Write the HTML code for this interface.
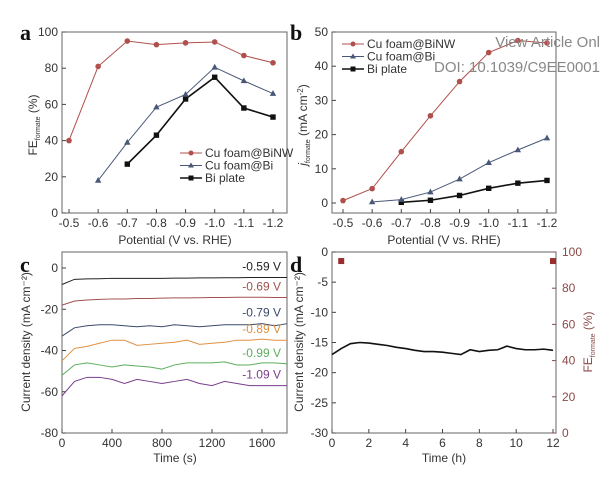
<!DOCTYPE html>
<html><head><meta charset="utf-8"><style>
body{margin:0;background:#fff;width:600px;height:474px;overflow:hidden}
svg{font-family:"Liberation Sans",sans-serif}
</style></head><body>
<svg id="fig" width="600" height="474" viewBox="0 0 600 474"></svg>
<script>
// ---- Panel a data ----
const potentials = [-0.5,-0.6,-0.7,-0.8,-0.9,-1.0,-1.1,-1.2];
const feBiNW = [40,81,95,93,94,94.5,87,83];
const feBi = [null,18,39,58.5,65.5,80.5,73,66];
const fePlate = [null,null,27,43,63,75,58,53];
// ---- Panel b data ----
const jBiNW = [0.7,4.2,15,25.5,35.5,44,47.5,46.8];
const jBi = [null,0.3,1,3.2,7,11.8,15.5,19];
const jPlate = [null,null,0.2,0.8,2.2,4.3,5.8,6.6];
// ---- Panel c data (every 100 s) ----
const timesC = [0,100,200,300,400,500,600,700,800,900,1000,1100,1200,1300,1400,1500,1600,1700,1800];
const c059 = [-8,-5.5,-5.3,-5.2,-5,-5,-5,-5,-5,-4.9,-4.9,-4.8,-4.8,-4.7,-4.7,-4.6,-4.6,-4.6,-4.6];
const c069 = [-18,-16,-15.5,-15.2,-15,-15,-14.8,-14.8,-14.6,-14.5,-14.5,-14.4,-14.3,-14.3,-14.2,-14.2,-14.2,-14.3,-14.3];
const c079 = [-33,-29,-28,-27.5,-27.5,-28,-28.5,-28,-28.5,-27.5,-28,-28.5,-28,-27.5,-27.5,-27.5,-27,-28,-27];
const c089 = [-45,-39,-38,-36.5,-35,-35,-37.5,-37,-36.5,-36,-35,-37,-36.5,-36,-35,-35,-34.5,-35,-35];
const c099 = [-52,-47,-46,-47,-48,-47,-47.5,-48,-49,-47,-46,-46,-46,-45.5,-47,-47,-46,-46,-46.5];
const c109 = [-62,-55,-53,-53,-54,-56,-54,-55,-56,-55,-54,-56,-57,-55,-56,-57,-57,-57,-57];
const cLabels = ["-0.59 V","-0.69 V","-0.79 V","-0.89 V","-0.99 V","-1.09 V"];
// ---- Panel d data ----
const timesD = [0,0.5,1,1.5,2,2.5,3,3.5,4,4.5,5,5.5,6,6.5,7,7.5,8,8.5,9,9.5,10,10.5,11,11.5,12];
const jD = [-17,-16,-15.2,-15,-15.1,-15.3,-15.5,-15.8,-16,-16.3,-16.5,-16.5,-16.6,-16.8,-17,-16.2,-16.5,-16.3,-16.2,-15.6,-16,-16.2,-16.2,-16.1,-16.3];
const feTimesD = [0.5,12];
const feD = [95,95];

const NS="http://www.w3.org/2000/svg";
const svg=document.getElementById('fig');
function mk(tag,attrs,parent,text){const e=document.createElementNS(NS,tag);for(const k in attrs)e.setAttribute(k,attrs[k]);if(text!==undefined)e.textContent=text;(parent||svg).appendChild(e);return e;}
function lin(d0,d1,r0,r1){return v=>r0+(v-d0)*(r1-r0)/(d1-d0);}
function grp(name){const g=mk('g',{});return g;}

function frame(g,x0,y0,x1,y1){
  const r=mk('rect',{x:x0,y:y0,width:x1-x0,height:y1-y0,fill:'none',stroke:'#666','stroke-width':1},g);
  
}
function xticks(g,vals,labels,sx,y,minor){
  vals.forEach((v,i)=>{mk('line',{x1:sx(v),x2:sx(v),y1:y,y2:y-4,stroke:'#444'},g);
    const t=mk('text',{x:sx(v),y:y+14,'font-size':12,'text-anchor':'middle',fill:'#333'},g,labels[i]);
    });
}
function yticks(g,vals,sy,x,side,color){
  vals.forEach(v=>{const dir=side==='left'?1:-1;
    mk('line',{x1:x,x2:x+4*dir,y1:sy(v),y2:sy(v),stroke:color||'#444'},g);
    const t=mk('text',{x:side==='left'?x-4:x+6,y:sy(v)+4,'font-size':12,'text-anchor':side==='left'?'end':'start',fill:color||'#333'},g,String(v));
    });
}
function series(g,xs,ys,sx,sy,color,marker,name,w){
  const pts=[];xs.forEach((x,i)=>{if(ys[i]!==null)pts.push([sx(x),sy(ys[i])]);});
  const p=mk('polyline',{points:pts.map(p=>p.join(',')).join(' '),fill:'none',stroke:color,'stroke-width':w||1},g);
  
  pts.forEach(([x,y])=>{let m;
    if(marker==='circle')m=mk('circle',{cx:x,cy:y,r:2.8,fill:color},g);
    else if(marker==='tri')m=mk('polygon',{points:`${x},${y-3.5} ${x-3.2},${y+2.3} ${x+3.2},${y+2.3}`,fill:color},g);
    else if(marker==='square')m=mk('rect',{x:x-2.7,y:y-2.7,width:5.4,height:5.4,fill:color},g);
    if(m){}
  });
}
function legend(g,x,y,items){
  items.forEach((it,i)=>{const yy=y+i*12.5;
    mk('line',{x1:x,x2:x+22,y1:yy,y2:yy,stroke:it.c,'stroke-width':it.w||1},g);
    let m;const cx=x+11;
    if(it.m==='circle')m=mk('circle',{cx:cx,cy:yy,r:2.5,fill:it.c},g);
    else if(it.m==='tri')m=mk('polygon',{points:`${cx},${yy-3} ${cx-3},${yy+2} ${cx+3},${yy+2}`,fill:it.c},g);
    else m=mk('rect',{x:cx-2.5,y:yy-2.5,width:5,height:5,fill:it.c},g);
    const t=mk('text',{x:x+25,y:yy+4,'font-size':12,fill:'#333'},g,it.t);
    
  });
}
function label(g,txt,x,y,name,opts){const t=mk('text',Object.assign({x:x,y:y,'font-size':12,'text-anchor':'middle',fill:'#333'},opts||{}),g,txt);return t;}
function panelLetter(l,x,y){const t=mk('text',{x:x,y:y,'font-size':22,'font-weight':'bold','font-family':'Liberation Serif,serif',fill:'#111'},svg,l);}
const RED='#b0504c',BLUE='#4a5878',BLK='#111';

// ===== Panel a =====
(function(){const g=grp('panel-a');
 const sx=lin(-0.5,-1.2,69,273), sy=lin(0,100,213,32);
 frame(g,62,32,287,213);
 xticks(g,potentials,potentials.map(v=>v.toFixed(1)),sx,213);
 yticks(g,[0,20,40,60,80,100],sy,62,'left');
 series(g,potentials,fePlate,sx,sy,BLK,'square','bi-plate',1.6);
 series(g,potentials,feBi,sx,sy,BLUE,'tri','cu-foam-bi');
 series(g,potentials,feBiNW,sx,sy,RED,'circle','cu-foam-binw');
 legend(g,180,153,[{t:'Cu foam@BiNW',c:RED,m:'circle'},{t:'Cu foam@Bi',c:BLUE,m:'tri'},{t:'Bi plate',c:BLK,m:'square',w:1.6}]);
 label(g,'Potential (V vs. RHE)',175,244,'x-axis-title');
 const t=label(g,'',0,0,'y-axis-title',{transform:'translate(37,125) rotate(-90)'});
 t.innerHTML='FE<tspan font-size="7" dy="3">formate</tspan><tspan dy="-3"> (%)</tspan>';
 panelLetter('a',20,40);})();

// ===== Panel b =====
(function(){const g=grp('panel-b');
 const sx=lin(-0.5,-1.2,343,547), sy=lin(0,50,203,32);
 frame(g,332,32,556,213);
 xticks(g,potentials,potentials.map(v=>v.toFixed(1)),sx,213);
 yticks(g,[0,10,20,30,40,50],sy,332,'left');
 series(g,potentials,jPlate,sx,sy,BLK,'square','bi-plate',1.6);
 series(g,potentials,jBi,sx,sy,BLUE,'tri','cu-foam-bi');
 series(g,potentials,jBiNW,sx,sy,RED,'circle','cu-foam-binw');
 legend(g,342,44,[{t:'Cu foam@BiNW',c:RED,m:'circle'},{t:'Cu foam@Bi',c:BLUE,m:'tri'},{t:'Bi plate',c:BLK,m:'square',w:1.6}]);
 label(g,'Potential (V vs. RHE)',444,244,'x-axis-title');
 const t=label(g,'',0,0,'y-axis-title',{transform:'translate(307,125) rotate(-90)'});
 t.innerHTML='<tspan font-style="italic">j</tspan><tspan font-size="7" dy="3">formate</tspan><tspan dy="-3"> (mA cm</tspan><tspan font-size="8" dy="-4">-2</tspan><tspan dy="4">)</tspan>';
 panelLetter('b',290,40);
 const w1=mk('text',{x:600,y:47,'font-size':15,'text-anchor':'end',fill:'#888'},svg,'View Article Onl');
 const w2=mk('text',{x:600,y:72,'font-size':15,'text-anchor':'end',fill:'#888'},svg,'DOI: 10.1039/C9EE0001');
})();

// ===== Panel c =====
(function(){const g=grp('panel-c');
 const sx=lin(0,1800,62,287), sy=lin(0,-80,268,433);
 frame(g,62,252,287,433);
 xticks(g,[0,400,800,1200,1600],['0','400','800','1200','1600'],sx,433);
 yticks(g,[0,-20,-40,-60,-80],sy,62,'left');
 const sets=[c059,c069,c079,c089,c099,c109];
 const cols=['#222','#a0524e','#3b4a6b','#e09040','#5cae5c','#7a3c8c'];
 const names=['curve-059','curve-069','curve-079','curve-089','curve-099','curve-109'];
 sets.forEach((s,i)=>{series(g,timesC,s,sx,sy,cols[i],null,names[i]);
   const t=label(g,cLabels[i],281,sy(s[s.length-1])-7,'curve-label',{'text-anchor':'end',fill:cols[i]});});
 label(g,'Time (s)',175,462,'x-axis-title');
 label(g,'Current density (mA cm\u207B\u00B2)',0,0,'y-axis-title',{transform:'translate(30,342) rotate(-90)'});
 panelLetter('c',20,272);})();

// ===== Panel d =====
(function(){const g=grp('panel-d');
 const sx=lin(0,12,332,553), sy=lin(0,-30,252,433), sy2=lin(0,100,433,252);
 frame(g,332,252,556,433);
 xticks(g,[0,2,4,6,8,10,12],['0','2','4','6','8','10','12'],sx,433);
 yticks(g,[0,-5,-10,-15,-20,-25,-30],sy,332,'left');
 yticks(g,[0,20,40,60,80,100],sy2,556,'right','#8a4a48');
 series(g,timesD,jD,sx,sy,BLK,null,'current-density',1.6);
 feTimesD.forEach((t,i)=>{const r=mk('rect',{x:sx(t)-3,y:sy2(feD[i])-3,width:6,height:6,fill:'#9a2e2e'},g);
   });
 label(g,'Time (h)',444,462,'x-axis-title');
 label(g,'Current density (mA cm\u207B\u00B2)',0,0,'y-axis-title',{transform:'translate(303,342) rotate(-90)'});
 const t=label(g,'',0,0,'y2-axis-title',{transform:'translate(592,342) rotate(-90)',fill:'#8a4a48'});
 t.innerHTML='FE<tspan font-size="7" dy="3">formate</tspan><tspan dy="-3"> (%)</tspan>';
 panelLetter('d',290,272);})();
</script>
</body></html>
